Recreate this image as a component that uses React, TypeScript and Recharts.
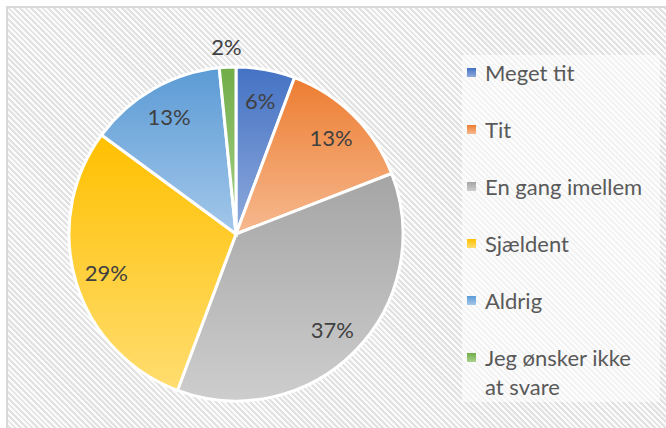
import React from 'react';
import { PieChart, Pie, Cell, Legend } from 'recharts';

const categories = ['Meget tit', 'Tit', 'En gang imellem', 'Sjældent', 'Aldrig', 'Jeg ønsker ikke at svare'];
const values = [5.7, 13.4, 36.6, 29.4, 13.3, 1.6];
const topColors = ['#4472C4', '#ED7D31', '#A5A5A5', '#FFC000', '#5B9BD5', '#70AD47'];
const bottomColors = ['#8FAADC', '#F6B98F', '#CDCDCD', '#FFDD70', '#A3C7EA', '#A9D18E'];

const data = categories.map((name, i) => ({ name, value: values[i] }));

const FONT = 'Lato, "Open Sans", sans-serif';
const RADIAN = Math.PI / 180;

const renderLabel = (props: any) => {
  const { cx, cy, midAngle, outerRadius, percent } = props;
  const r = percent < 0.03 ? outerRadius + 21 : outerRadius * 0.81;
  const x = cx + r * Math.cos(-midAngle * RADIAN);
  const y = cy + r * Math.sin(-midAngle * RADIAN);
  return (
    <text x={x} y={y} fill="#404040" fontSize={22} fontFamily={FONT} textAnchor="middle" dominantBaseline="central">
      {Math.round(percent * 100) + '%'}
    </text>
  );
};

const renderLegend = () => {
  return (
    <div style={{ fontFamily: FONT, fontSize: 22, color: '#595959' }}>
      {categories.map((name, i) => (
        <div key={name} style={{ display: 'flex', alignItems: 'flex-start', height: 57 }}>
          <div style={{ width: 9, height: 9, marginTop: 10, marginRight: 9, flexShrink: 0, background: `linear-gradient(${topColors[i]}, ${bottomColors[i]})` }} />
          <div style={{ lineHeight: '29px', width: 160 }}>{name}</div>
        </div>
      ))}
    </div>
  );
};

export default function App() {
  return (
    <div style={{ position: 'absolute', left: 0, top: 0, width: 666, height: 428, overflow: 'hidden', background: '#fff' }}>
      <div style={{
        position: 'absolute', left: 6, top: 6, width: 670, height: 432, boxSizing: 'border-box',
        border: '2px solid #d9d9d9',
        background: 'repeating-linear-gradient(45deg, #fbfbfb 0px, #fbfbfb 2px, #e2e2e2 2px, #e2e2e2 4px)',
      }} />
      <div style={{ position: 'absolute', left: 462, top: 55, width: 198, height: 347, background: 'rgba(255,255,255,0.6)' }} />
      <svg width={0} height={0} style={{ position: 'absolute' }}>
        <defs>
          {topColors.map((c, i) => (
            <linearGradient key={i} id={`grad${i}`} x1="0" y1="0" x2="0" y2="1">
              <stop offset="0%" stopColor={c} />
              <stop offset="100%" stopColor={bottomColors[i]} />
            </linearGradient>
          ))}
        </defs>
      </svg>
      <div style={{ position: 'absolute', left: 0, top: 0 }}>
        <PieChart width={666} height={428} margin={{ top: 0, right: 0, bottom: 0, left: 0 }}>
          <Pie
            data={data}
            dataKey="value"
            nameKey="name"
            cx={236}
            cy={234}
            outerRadius={167}
            startAngle={90}
            endAngle={-270}
            stroke="#ffffff"
            strokeWidth={3}
            label={renderLabel}
            labelLine={false}
            isAnimationActive={false}
          >
            {data.map((d, i) => (
              <Cell key={d.name} fill={`url(#grad${i})`} />
            ))}
          </Pie>
          <Legend
            layout="vertical"
            align="right"
            verticalAlign="top"
            content={renderLegend}
            wrapperStyle={{ position: 'absolute', left: 467, top: 58, width: 190 }}
          />
        </PieChart>
      </div>
    </div>
  );
}
